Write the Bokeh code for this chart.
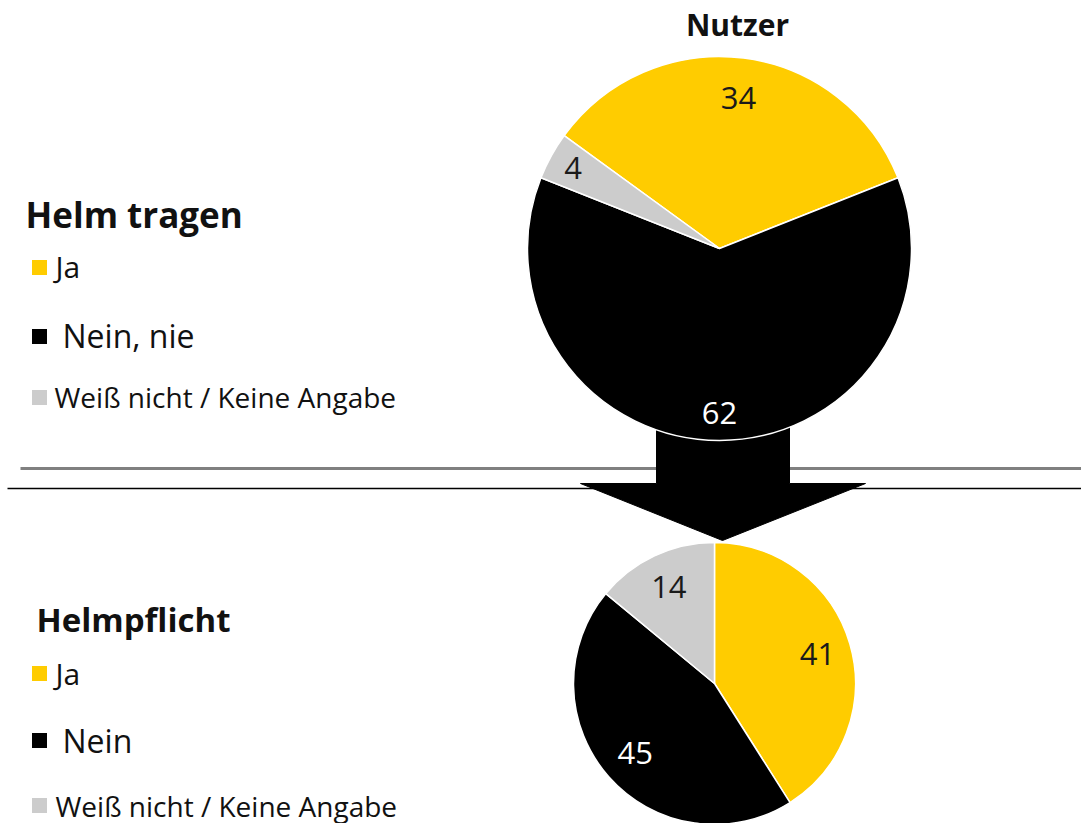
import math
from bokeh.plotting import figure
from bokeh.models import Range1d, ColumnDataSource
from bokeh.core.properties import value
from bokeh.embed import file_html
from bokeh.resources import INLINE

# ---------------- data ----------------
top_title = "Nutzer"
legend_title_top = "Helm tragen"
legend_title_bottom = "Helmpflicht"
top_categories = ["Ja", "Nein, nie", "Weiß nicht / Keine Angabe"]
top_values = [34, 62, 4]
bottom_categories = ["Ja", "Nein", "Weiß nicht / Keine Angabe"]
bottom_values = [41, 45, 14]
slice_colors = ["#FFCC00", "#000000", "#CCCCCC"]
label_colors = ["#1a1a1a", "#ffffff", "#1a1a1a"]

FONT = value("Open Sans")
TXT = "#111111"

W, H = 1081, 823
p = figure(width=W, height=H, x_range=Range1d(0, W), y_range=Range1d(-H, 0),
           output_backend="svg", toolbar_location=None, x_axis_type=None, y_axis_type=None,
           min_border=0, outline_line_color=None, background_fill_color="white",
           border_fill_color="white")
p.grid.visible = False


def Y(y):
    # picture pixel row -> data coordinate (y up)
    return -y


# separator lines
p.line([20, W], [Y(468), Y(468)], line_color="#808080", line_width=3)
p.line([7, W], [Y(488), Y(488)], line_color="#000000", line_width=1.5)

# arrow
ax = [656, 789, 789, 865, 722, 580, 656]
ay = [Y(400), Y(400), Y(483), Y(483), Y(540), Y(483), Y(483)]
p.patch(ax, ay, fill_color="#000000", line_color="#000000", line_width=1)


def pie(values, cx, cy, r, start_deg, fracs, fsize):
    total = float(sum(values))
    cur = math.radians(start_deg)
    starts, ends, lx, ly = [], [], [], []
    for v, frac in zip(values, fracs):
        a = 2 * math.pi * v / total
        s = cur - a
        starts.append(s)
        ends.append(cur)
        mid = (s + cur) / 2
        lx.append(cx + frac * r * math.cos(mid))
        ly.append(cy + frac * r * math.sin(mid))
        cur = s
    n = len(values)
    src = ColumnDataSource(dict(x=[cx] * n, y=[cy] * n, start=starts, end=ends,
                                color=slice_colors[:n]))
    p.wedge(x="x", y="y", radius=r, start_angle="start", end_angle="end",
            fill_color="color", line_color="white", line_width=1.5, source=src)
    lsrc = ColumnDataSource(dict(x=lx, y=ly, t=[str(v) for v in values],
                                 c=label_colors[:n]))
    p.text(x="x", y="y", text="t", text_color="c", source=lsrc, text_font=FONT,
           text_font_size=fsize, text_align="center", text_baseline="middle")


pie(top_values, 719, Y(248), 192, 144, [0.79, 0.855, 0.87], "31px")
pie(bottom_values, 714, Y(683), 141, 90, [0.76, 0.75, 0.76], "31px")

# title
p.text(x=[737], y=[Y(24)], text=[top_title], text_font=FONT, text_font_size="30px",
       text_font_style="bold", text_align="center", text_baseline="middle",
       text_color=TXT)


def legend(title, tx, ty, tsize, cats, rows, sizes, text_x):
    p.text(x=[tx], y=[Y(ty)], text=[title], text_font=FONT, text_font_size=tsize,
           text_font_style="bold", text_align="left", text_baseline="middle",
           text_color=TXT)
    for i, c in enumerate(cats):
        sq_y, mid = rows[i]
        p.rect(x=[39], y=[Y(sq_y)], width=15, height=15, fill_color=slice_colors[i],
               line_color=None)
        p.text(x=[text_x[i]], y=[Y(mid)], text=[c], text_font=FONT,
               text_font_size=sizes[i], text_align="left", text_baseline="middle",
               text_color=TXT)


legend(legend_title_top, 25, 214, "35px", top_categories,
       [(267, 266), (336, 335), (397, 396)], ["30px", "32px", "28px"], [55, 62, 54])
legend(legend_title_bottom, 36, 619, "33px", bottom_categories,
       [(673, 673), (740, 740), (805, 805)], ["30px", "32px", "28px"], [55, 62, 55])

open("out.html", "w").write(file_html(p, INLINE))
